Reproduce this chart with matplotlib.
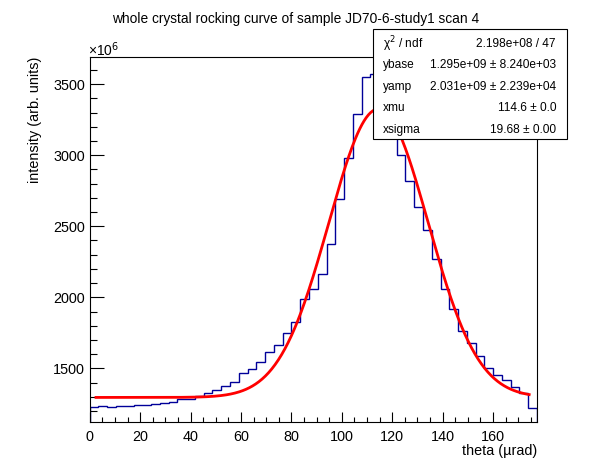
import numpy as np
import matplotlib.pyplot as plt
from matplotlib.patches import Rectangle
from matplotlib.ticker import MultipleLocator

plt.rcParams['font.family'] = ['Liberation Sans', 'DejaVu Sans']

# histogram contents, in units of 1e6
counts = [1227, 1235, 1227, 1235, 1235, 1239, 1239, 1246, 1254, 1261,
          1282, 1282, 1307, 1324, 1345, 1373, 1401, 1465, 1493, 1542,
          1613, 1662, 1746, 1828, 1986, 2056, 2162, 2373, 2690, 2979,
          3289, 3551, 3570, 3540, 3300, 3000, 2817, 2636, 2476, 2273,
          2060, 1915, 1761, 1676, 1587, 1500, 1451, 1415, 1366, 1328, 1218]
theta_min = 0.0
theta_max = 177.5

# fit result from the stat box
ybase = 1.295e9
yamp = 2.031e9
xmu = 114.6
xsigma = 19.68
fit_lo, fit_hi = 2.5, 174.4

stat_names = ['χ$^2$ / ndf', 'ybase', 'yamp', 'xmu', 'xsigma']
stat_values = ['2.198e+08 / 47', '1.295e+09 ± 8.240e+03',
               '2.031e+09 ± 2.239e+04', '114.6 ± 0.0', '19.68 ± 0.00']

W, H = 596, 472
fig = plt.figure(figsize=(W / 100, H / 100), dpi=100)
ax = fig.add_axes([89.7 / W, 1 - 422 / H, (537 - 89.7) / W, (422 - 56.7) / H])

edges = np.linspace(theta_min, theta_max, len(counts) + 1)
ax.stairs(counts, edges, color='#000099', lw=1.0)

xf = np.linspace(fit_lo, fit_hi, 400)
yf = (ybase + yamp * np.exp(-0.5 * ((xf - xmu) / xsigma) ** 2)) / 1e6
ax.plot(xf, yf, color='#ff0000', lw=2.0)

ax.set_xlim(theta_min, theta_max)
ax.set_ylim(1122, 3694)

ax.xaxis.set_major_locator(MultipleLocator(20))
ax.xaxis.set_minor_locator(MultipleLocator(5))
ax.yaxis.set_major_locator(MultipleLocator(500))
ax.yaxis.set_minor_locator(MultipleLocator(100))
ax.tick_params(which='both', direction='in', top=False, right=False, width=0.8)
ax.tick_params(axis='x', which='major', length=7.5, pad=5.5, labelsize=10.4)
ax.tick_params(axis='x', which='minor', length=3.8)
ax.tick_params(axis='y', which='major', length=10, pad=3.4, labelsize=10.4)
ax.tick_params(axis='y', which='minor', length=5)
for s in ax.spines.values():
    s.set_linewidth(0.8)

fig.text(296 / W, 1 - 19 / H, 'whole crystal rocking curve of sample JD70-6-study1 scan 4',
         ha='center', va='center', fontsize=9.9)
fig.text(537 / W, 1 - 451 / H, 'theta (µrad)', ha='right', va='center', fontsize=10.4)
fig.text(35 / W, 1 - 57 / H, 'intensity (arb. units)', rotation=90,
         ha='center', va='top', fontsize=10.4)
fig.text(88 / W, 1 - 50 / H, '×10$^6$', ha='left', va='center', fontsize=10)

# stat box
fig.add_artist(Rectangle((372.7 / W, 1 - 138.7 / H), (567.3 - 372.7) / W, (138.7 - 29) / H,
                         transform=fig.transFigure, facecolor='white',
                         edgecolor='black', lw=0.8, zorder=5))
rows_y = [43.7, 64.7, 87.3, 108, 129.7]
for name, val, yy in zip(stat_names, stat_values, rows_y):
    fig.text(383 / W, 1 - yy / H, name, ha='left', va='center', fontsize=8.6, zorder=6)
    fig.text(556 / W, 1 - yy / H, val, ha='right', va='center', fontsize=8.6, zorder=6)

fig.savefig('out.png', dpi=100)
